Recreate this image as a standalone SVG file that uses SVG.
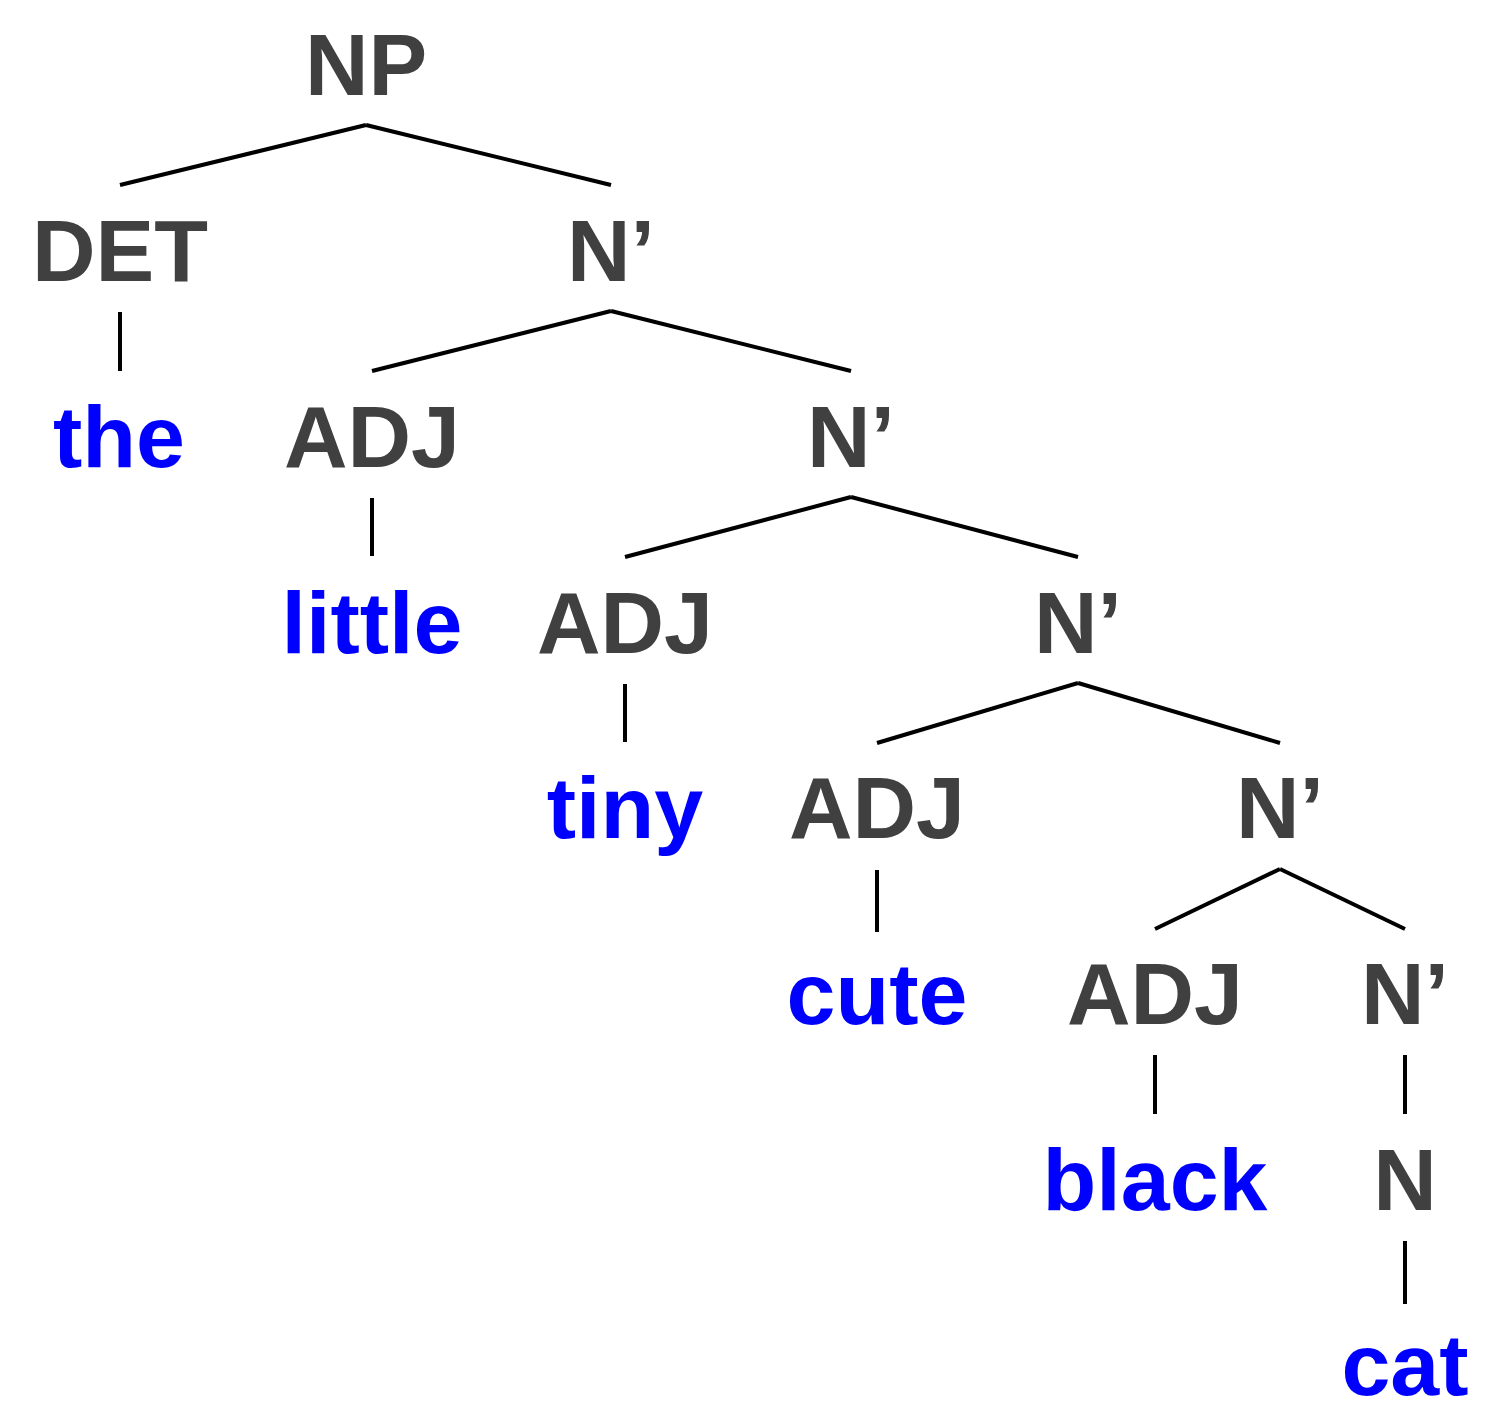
<svg xmlns="http://www.w3.org/2000/svg" width="1500" height="1427" viewBox="0 0 1500 1427">
<style>
text{font-family:"Liberation Sans",Arial,sans-serif;font-weight:bold;font-size:88px;text-anchor:middle}
.c{fill:#404040}
.w{fill:#0000ff}
.e line{stroke:#000;stroke-width:4;stroke-linecap:butt}
</style>
<rect width="1500" height="1427" fill="#fff"/>
<g class="e" id="connectors">
<line x1="366" y1="125" x2="120" y2="185"/>
<line x1="366" y1="125" x2="611" y2="185"/>
<line x1="120" y1="312" x2="120" y2="371"/>
<line x1="611" y1="311" x2="372" y2="371"/>
<line x1="611" y1="311" x2="851" y2="371"/>
<line x1="372" y1="498" x2="372" y2="556"/>
<line x1="851" y1="497" x2="625" y2="557"/>
<line x1="851" y1="497" x2="1078" y2="557"/>
<line x1="625" y1="684" x2="625" y2="742"/>
<line x1="1078" y1="683" x2="877" y2="743"/>
<line x1="1078" y1="683" x2="1280" y2="743"/>
<line x1="877" y1="870" x2="877" y2="932"/>
<line x1="1280" y1="869" x2="1155" y2="929"/>
<line x1="1280" y1="869" x2="1405" y2="929"/>
<line x1="1155" y1="1055" x2="1155" y2="1114"/>
<line x1="1405" y1="1055" x2="1405" y2="1114"/>
<line x1="1405" y1="1241" x2="1405" y2="1304"/>
</g>
<g id="np"><text class="c" x="366" y="95">NP</text></g>
<g id="det"><text class="c" x="120" y="281">DET</text></g>
<g id="nbar1"><text class="c" x="611" y="281">N’</text></g>
<g id="the"><text class="w" x="119" y="467">the</text></g>
<g id="adj1"><text class="c" x="372" y="467">ADJ</text></g>
<g id="nbar2"><text class="c" x="851" y="467">N’</text></g>
<g id="little"><text class="w" x="372" y="653">little</text></g>
<g id="adj2"><text class="c" x="625" y="653">ADJ</text></g>
<g id="nbar3"><text class="c" x="1078" y="653">N’</text></g>
<g id="tiny"><text class="w" x="625" y="838">tiny</text></g>
<g id="adj3"><text class="c" x="877" y="838">ADJ</text></g>
<g id="nbar4"><text class="c" x="1280" y="838">N’</text></g>
<g id="cute"><text class="w" x="877" y="1024">cute</text></g>
<g id="adj4"><text class="c" x="1155" y="1024">ADJ</text></g>
<g id="nbar5"><text class="c" x="1405" y="1024">N’</text></g>
<g id="black"><text class="w" x="1155" y="1210">black</text></g>
<g id="n"><text class="c" x="1405" y="1210">N</text></g>
<g id="cat"><text class="w" x="1405" y="1395">cat</text></g>
</svg>
